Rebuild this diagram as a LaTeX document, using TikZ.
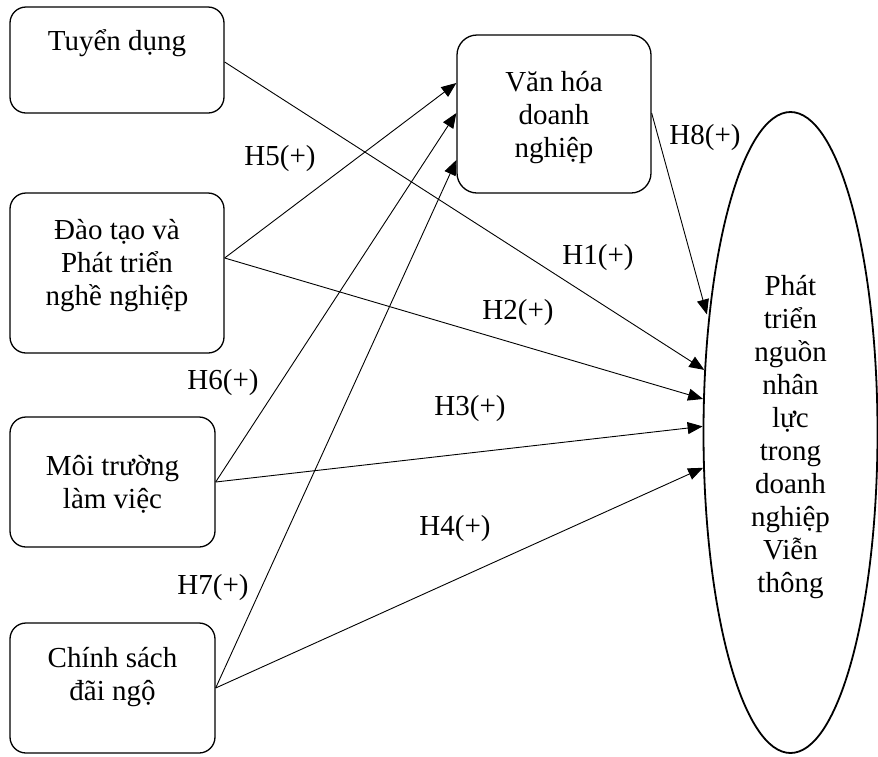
\documentclass[tikz,border=0pt]{standalone}
\usepackage{fontspec}
\setmainfont{Liberation Serif}
\usetikzlibrary{shapes.geometric,arrows.meta,calc}
\begin{document}
\begin{tikzpicture}[x=1pt,y=-1pt,
  every node/.style={font=\fontsize{29}{33}\selectfont, inner sep=0pt, align=center},
  srcbox/.style={draw, line width=1.3pt, rounded corners=16pt, rectangle},
  culbox/.style={draw, line width=1.3pt, rounded corners=20pt, rectangle},
  outell/.style={draw, line width=1.8pt, ellipse},
  hyp/.style={-{Triangle[length=15pt,width=12pt]}, line width=0.9pt},
  lab/.style={font=\fontsize{29}{33}\selectfont}
]
\useasboundingbox (0,0) rectangle (878,756);

\node[srcbox, minimum width=214pt, minimum height=106pt, text height=5pt, text depth=25pt] (td) at (117,60) {Tuyển dụng};
\node[srcbox, minimum width=214pt, minimum height=160pt, text height=64pt, text depth=0pt] (dt) at (117,273) {Đào tạo và\\Phát triển\\nghề nghiệp};
\node[srcbox, minimum width=205pt, minimum height=130pt, text height=52pt, text depth=0pt] (mt) at (112.5,482) {Môi trường\\làm việc};
\node[srcbox, minimum width=205pt, minimum height=130pt, text height=24pt, text depth=0pt] (cs) at (112.5,688) {Chính sách\\đãi ngộ};
\node[culbox, minimum width=194pt, minimum height=158pt, text height=86pt, text depth=0pt] (cul) at (554,114) {Văn hóa\\doanh\\nghiệp};
\node[outell, minimum width=174pt, minimum height=641pt, text height=319pt, text depth=0pt] (ell) at (790.5,432.5) {Phát\\triển\\nguồn\\nhân\\lực\\trong\\doanh\\nghiệp\\Viễn\\thông};

% arrows to culture
\draw[hyp] ($(dt.east)+(0,-15)$) -- ($(cul.west)+(0,-31)$);
\draw[hyp] (mt.east) -- ($(cul.west)+(0,-1)$);
\draw[hyp] (cs.east) -- ($(cul.west)+(0,46)$);
% arrows to outcome
\draw[hyp] ($(td.east)+(0,2)$) -- (ell.144.7);
\draw[hyp] ($(dt.east)+(0,-15)$) -- (ell.159.4);
\draw[hyp] (mt.east) -- (ell.176.4);
\draw[hyp] (cs.east) -- (ell.202.3);
\draw[hyp, shorten >=5pt] ($(cul.east)+(0,-1)$) -- (ell.126.5);

% labels
\node[lab] (h5) at (280,159) {H5(+)};
\node[lab] (h8) at (705,138) {H8(+)};
\node[lab] (h1) at (598,258) {H1(+)};
\node[lab] (h2) at (518,313) {H2(+)};
\node[lab] (h6) at (223,383) {H6(+)};
\node[lab] (h3) at (470,409) {H3(+)};
\node[lab] (h4) at (455,529) {H4(+)};
\node[lab] (h7) at (213,588) {H7(+)};
\end{tikzpicture}
\end{document}
